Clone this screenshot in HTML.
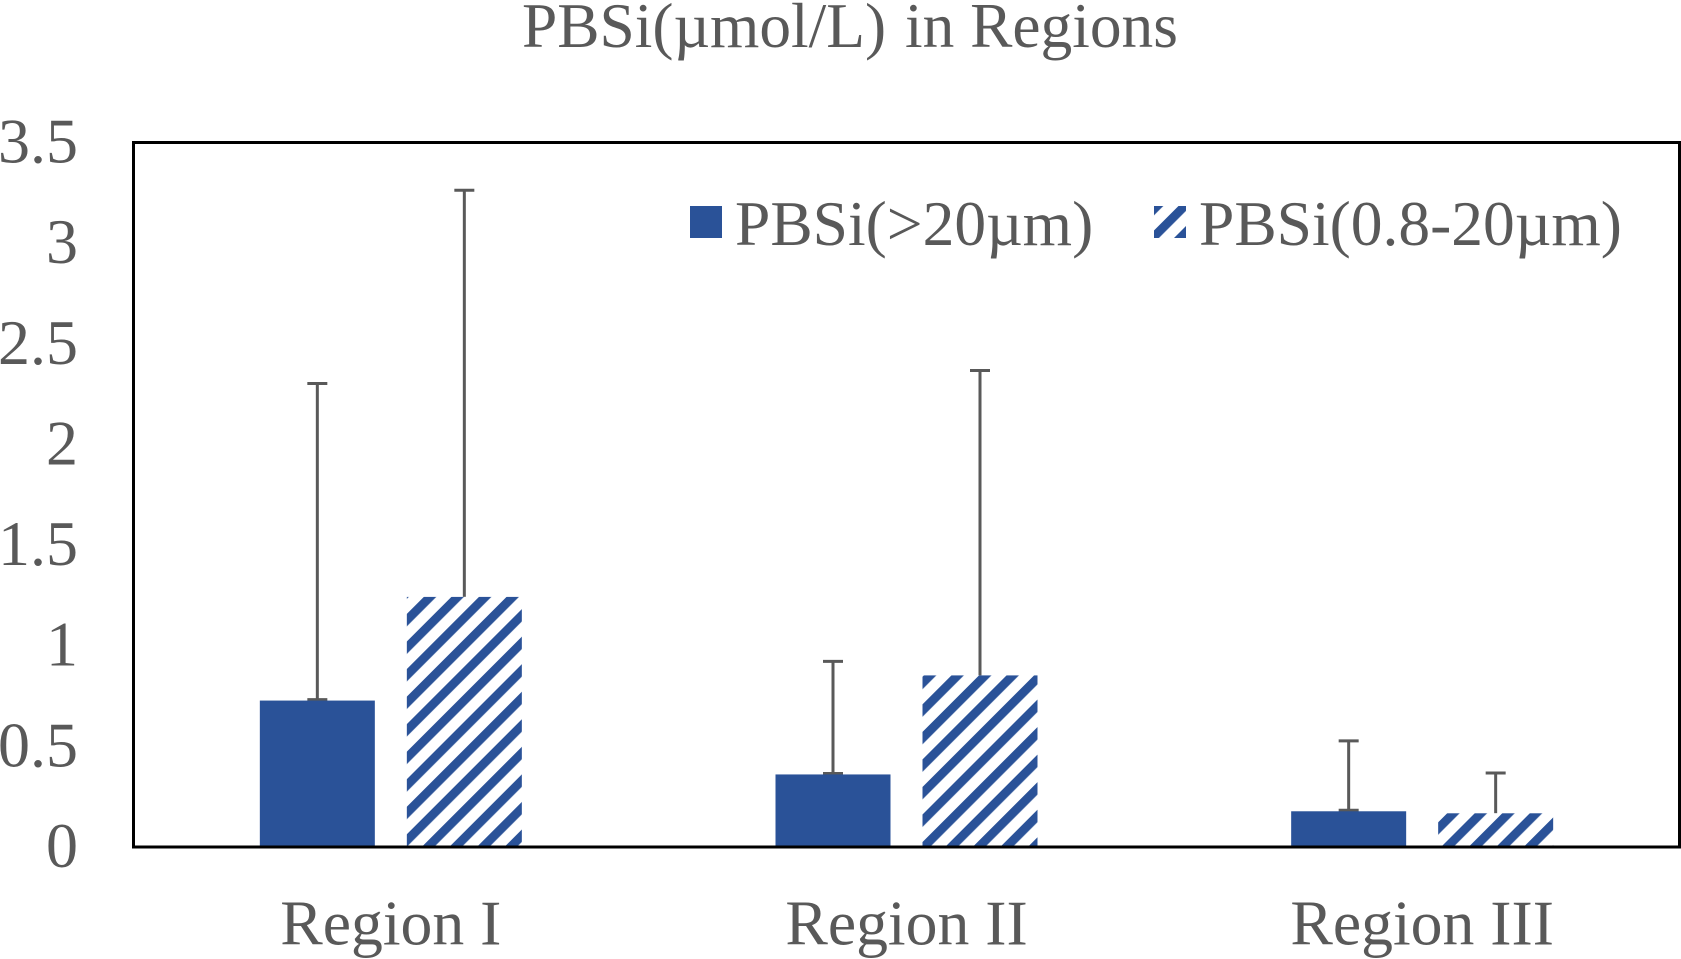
<!DOCTYPE html>
<html lang="en">
<head>
<meta charset="utf-8">
<title>PBSi(µmol/L) in Regions</title>
<style>
html,body{margin:0;padding:0;background:#fff;width:1681px;height:959px;overflow:hidden}
svg{display:block}
text{font-family:"Liberation Serif",serif;fill:#595959}
</style>
</head>
<body>
<svg id="chart" xmlns="http://www.w3.org/2000/svg" width="1681" height="959" viewBox="0 0 1681 959">
  <defs>
    <pattern id="hatch" patternUnits="userSpaceOnUse" width="19.48" height="19.48" patternTransform="translate(1.43 0) rotate(45)">
      <rect width="19.48" height="19.48" fill="#fff"></rect>
      <rect x="0" y="0" width="8.8" height="19.48" fill="#2a5298"></rect>
    </pattern>
    <pattern id="hatch-legend" patternUnits="userSpaceOnUse" width="19.48" height="19.48" patternTransform="translate(7 0) rotate(45)">
      <rect width="19.48" height="19.48" fill="#fff"></rect>
      <rect x="0" y="0" width="8.8" height="19.48" fill="#2a5298"></rect>
    </pattern>
  </defs>
  <text x="522" y="47" font-size="63.4">PBSi(µmol/L)<tspan dx="19"> </tspan><tspan dx="-16">in Regions</tspan></text>
  <g id="y-axis"></g>
  <g id="bars"></g>
  <rect x="133.5" y="142.5" width="1546" height="704.5" fill="none" stroke="#000" stroke-width="3"></rect>
  <g id="x-axis"></g>
  <g>
    <rect x="690" y="206" width="32" height="32" fill="#2a5298"></rect>
    <text x="735" y="245" font-size="63.5">PBSi(&gt;20µm)</text>
    <rect x="1154" y="206" width="32" height="32" fill="url(#hatch-legend)"></rect>
    <text x="1199" y="245" font-size="63.5">PBSi(0.8-20µm)</text>
  </g>
</svg>
<script>
const categories = ["Region I", "Region II", "Region III"];
const coarseValues = [0.725, 0.358, 0.175];
const coarseErrorTops = [2.30, 0.92, 0.525];
const fineValues = [1.24, 0.85, 0.165];
const fineErrorTops = [3.26, 2.365, 0.365];
const yTicks = [0, 0.5, 1, 1.5, 2, 2.5, 3, 3.5];

const NS = "http://www.w3.org/2000/svg";
const plotLeft = 133, plotRight = 1680, baseY = 846.5, topY = 142, yMax = 3.5;
const barW = 115, barGap = 32;
const y = v => baseY - (v / yMax) * (baseY - topY);
const catCenter = i => plotLeft + (plotRight - plotLeft) * (i + 0.5) / categories.length;

function make(parent, tag, attrs) {
  const el = document.createElementNS(NS, tag);
  for (const k in attrs) el.setAttribute(k, attrs[k]);
  parent.appendChild(el);
  return el;
}

const yAxis = document.getElementById("y-axis");
yTicks.forEach(t => {
  const el = make(yAxis, "text", {x: 78, y: y(t) + 20.5, "font-size": 64, "text-anchor": "end"});
  
  
  el.textContent = String(t);
});

const xAxis = document.getElementById("x-axis");
categories.forEach((c, i) => {
  const el = make(xAxis, "text", {x: catCenter(i), y: 944.5, "font-size": 63.7, "text-anchor": "middle"});
  
  
  el.textContent = c;
});

const barsG = document.getElementById("bars");
function errorBar(cx, value, top, lowerCap) {
  const g = make(barsG, "g", {stroke: "#595959", "stroke-width": 3, fill: "none"});
  
  
  make(g, "line", {x1: cx, x2: cx, y1: y(value), y2: y(top)});
  make(g, "line", {x1: cx - 10, x2: cx + 10, y1: y(top), y2: y(top)});
  if (lowerCap) make(g, "line", {x1: cx - 10, x2: cx + 10, y1: y(value) - 1, y2: y(value) - 1});
}
categories.forEach((c, i) => {
  const cx = catCenter(i);
  const x1 = cx - barGap / 2 - barW;
  const x2 = cx + barGap / 2;
  errorBar(x1 + barW / 2, coarseValues[i], coarseErrorTops[i], true);
  errorBar(x2 + barW / 2, fineValues[i], fineErrorTops[i], false);
  const a = make(barsG, "rect", {x: x1, y: y(coarseValues[i]), width: barW, height: baseY - y(coarseValues[i]), fill: "#2a5298"});
  
  
  const b = make(barsG, "rect", {x: x2, y: y(fineValues[i]), width: barW, height: baseY - y(fineValues[i]), fill: "url(#hatch)"});
  
  
});
</script>
</body>
</html>
